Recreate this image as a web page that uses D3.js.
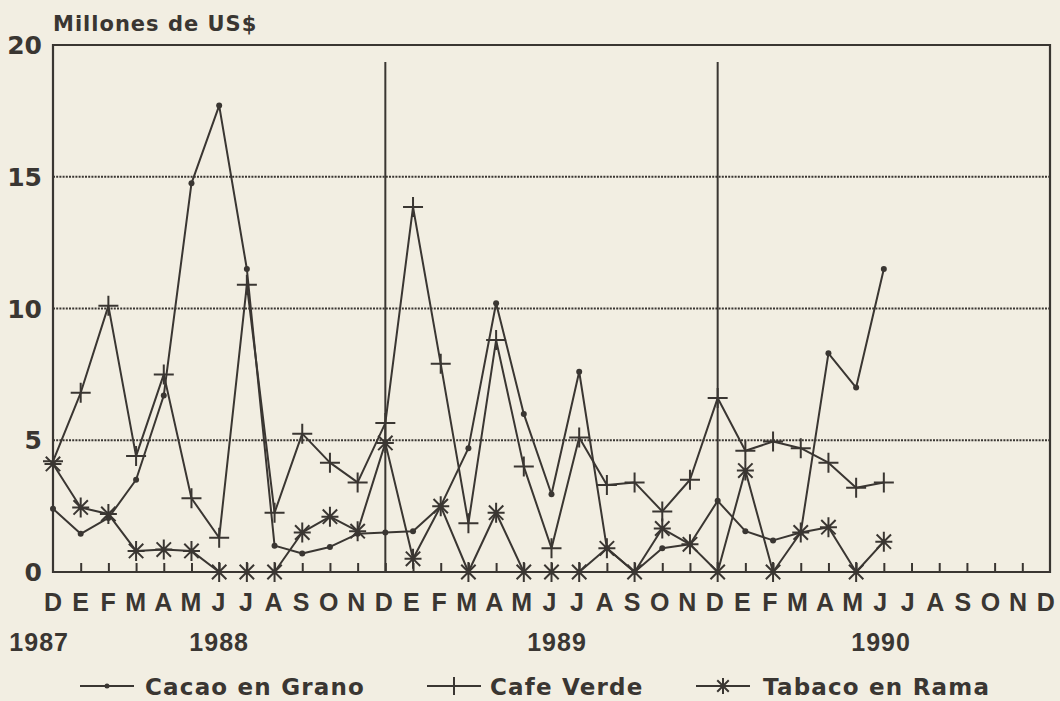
<!doctype html>
<html>
<head>
<meta charset="utf-8">
<style>
  body { margin: 0; background: #f2eee2; }
  svg { display: block; }
  text { font-family: "Liberation Sans", Arial, sans-serif; font-weight: bold; fill: #3a3632; }
  .wide { font-family: "DejaVu Sans", sans-serif; }
</style>
<script src="https://d3js.org/d3.v7.min.js"></script>
</head>
<body>
<svg width="1060" height="701"></svg>
<script>
  // meses desde Dic 1987 hasta Dic 1990
  var months = ["D","E","F","M","A","M","J","J","A","S","O","N",
                "D","E","F","M","A","M","J","J","A","S","O","N",
                "D","E","F","M","A","M","J","J","A","S","O","N","D"];
  var years = [{label: "1987", idx: -0.5}, {label: "1988", idx: 6}, {label: "1989", idx: 18.2}, {label: "1990", idx: 29.9}];
  var yTicks = [0, 5, 10, 15, 20];
  var yearBreaks = [12, 24];

  var cacao  = [2.4, 1.45, 2.05, 3.5, 6.7, 14.75, 17.7, 11.5, 1.0, 0.7, 0.95, 1.45,
                1.5, 1.55, 2.5, 4.7, 10.2, 6.0, 2.95, 7.6, 0.9, 0.0, 0.9, 1.05,
                2.7, 1.55, 1.2, 1.5, 8.3, 7.0, 11.5];
  var cafe   = [4.2, 6.8, 10.1, 4.4, 7.5, 2.8, 1.3, 10.9, 2.25, 5.25, 4.15, 3.4,
                5.65, 13.85, 7.9, 1.85, 8.8, 4.0, 0.9, 5.1, 3.3, 3.4, 2.3, 3.5,
                6.6, 4.6, 4.95, 4.7, 4.15, 3.2, 3.4];
  var tabaco = [4.1, 2.45, 2.2, 0.8, 0.85, 0.8, 0.0, 0.0, 0.0, 1.5, 2.1, 1.55,
                4.9, 0.5, 2.5, 0.0, 2.25, 0.0, 0.0, 0.0, 0.9, 0.0, 1.65, 1.05,
                0.0, 3.85, 0.0, 1.5, 1.7, 0.0, 1.15];

  var ink = "#3a3632";
  var svg = d3.select("svg");
  var plotL = 53, plotR = 1050, plotT = 45, plotB = 572;

  var x = d3.scaleLinear().domain([0, months.length - 1]).range([plotL, plotR]);
  var y = d3.scaleLinear().domain([0, 20]).range([plotB, plotT]);

  // rejilla punteada
  svg.append("g").selectAll("line")
     .data(yTicks.filter(function(d) { return d > 0 && d < 20; }))
     .enter().append("line")
     .attr("x1", plotL).attr("x2", plotR)
     .attr("y1", function(d) { return y(d); }).attr("y2", function(d) { return y(d); })
     .attr("stroke", ink).attr("stroke-width", 1.8).attr("stroke-dasharray", "2,1.2");

  // separadores de año
  svg.append("g").selectAll("line")
     .data(yearBreaks)
     .enter().append("line")
     .attr("x1", function(d) { return x(d); }).attr("x2", function(d) { return x(d); })
     .attr("y1", 62).attr("y2", plotB)
     .attr("stroke", ink).attr("stroke-width", 2);

  // marco
  svg.append("path")
     .attr("d", "M" + plotL + "," + plotB + "V" + plotT + "H" + plotR + "V" + plotB + "Z")
     .attr("fill", "none").attr("stroke", ink).attr("stroke-width", 2.2);

  // eje x con marcas hacia arriba
  svg.append("g")
     .attr("transform", "translate(0," + plotB + ")")
     .call(d3.axisBottom(x).tickValues(d3.range(1, months.length - 1)).tickSize(-9).tickFormat(""))
     .call(function(g) { g.select(".domain").remove(); })
     .selectAll("line").attr("stroke", ink).attr("stroke-width", 2);

  svg.append("g").selectAll("text")
     .data(months)
     .enter().append("text")
     .attr("x", function(d, i) { return x(i) - i * 0.12; })
     .attr("y", 611)
     .attr("text-anchor", "middle")
     .attr("font-size", "25px")
     .text(function(d) { return d; });

  svg.append("g").selectAll("text")
     .data(years)
     .enter().append("text")
     .attr("x", function(d) { return x(d.idx); })
     .attr("y", 651)
     .attr("text-anchor", "middle")
     .attr("font-size", "25px")
     .attr("letter-spacing", "1px")
     .text(function(d) { return d.label; });

  // eje y
  svg.append("g").selectAll("text")
     .data(yTicks)
     .enter().append("text")
     .attr("class", "wide")
     .attr("x", 42)
     .attr("y", function(d) { return y(d) + 9; })
     .attr("text-anchor", "end")
     .attr("font-size", "25px")
     .text(function(d) { return d; });

  svg.append("text")
     .attr("class", "wide")
     .attr("x", 53).attr("y", 31)
     .attr("font-size", "21px")
     .attr("letter-spacing", "1px")
     .text("Millones de US$");

  // marcadores
  function plus(s) { return "M" + (-s) + ",0H" + s + "M0," + (-s) + "V" + s; }
  function star(s) {
    var d = s * 0.72;
    return "M0," + (-s) + "V" + s + "M" + (-d) + "," + (-d) + "L" + d + "," + d +
           "M" + (-d) + "," + d + "L" + d + "," + (-d) + "M" + (-s * 0.85) + ",0H" + (s * 0.85);
  }

  var line = d3.line()
     .x(function(d, i) { return x(i); })
     .y(function(d) { return y(d); });

  var series = [
    {name: "Cacao en Grano", values: cacao, marker: "dot"},
    {name: "Cafe Verde", values: cafe, marker: "plus"},
    {name: "Tabaco en Rama", values: tabaco, marker: "star"}
  ];

  function drawMarker(sel, type, inLegend) {
    if (type === "dot") {
      sel.append("circle").attr("r", inLegend ? 2.5 : 3).attr("fill", ink);
    } else if (type === "plus") {
      sel.append("path").attr("d", plus(inLegend ? 9 : 10)).attr("stroke", ink).attr("stroke-width", 2).attr("fill", "none");
    } else {
      sel.append("path").attr("d", star(inLegend ? 8 : 10)).attr("stroke", ink).attr("stroke-width", 2).attr("fill", "none");
    }
  }

  series.forEach(function(s) {
    svg.append("path")
       .datum(s.values)
       .attr("d", line)
       .attr("fill", "none")
       .attr("stroke", ink)
       .attr("stroke-width", 2)
       .attr("stroke-linejoin", "round");

    svg.append("g").selectAll("g")
       .data(s.values)
       .enter().append("g")
       .attr("transform", function(d, i) { return "translate(" + x(i) + "," + y(d) + ")"; })
       .each(function() { drawMarker(d3.select(this), s.marker, false); });
  });

  // leyenda
  var legendPos = [{x: 80, tx: 145}, {x: 427, tx: 490}, {x: 696, tx: 763}];
  var legend = svg.append("g").selectAll("g")
     .data(series)
     .enter().append("g")
     .attr("transform", function(d, i) { return "translate(" + legendPos[i].x + ",686)"; });

  legend.append("line")
     .attr("x1", 0).attr("x2", 54).attr("y1", 0).attr("y2", 0)
     .attr("stroke", ink).attr("stroke-width", 2);

  legend.each(function(d) {
    var m = d3.select(this).append("g").attr("transform", "translate(27,0)");
    drawMarker(m, d.marker, true);
  });

  legend.append("text")
     .attr("class", "wide")
     .attr("x", function(d, i) { return legendPos[i].tx - legendPos[i].x; })
     .attr("y", 9)
     .attr("font-size", "23px")
     .attr("letter-spacing", "1.2px")
     .text(function(d) { return d.name; });
</script>
</body>
</html>
